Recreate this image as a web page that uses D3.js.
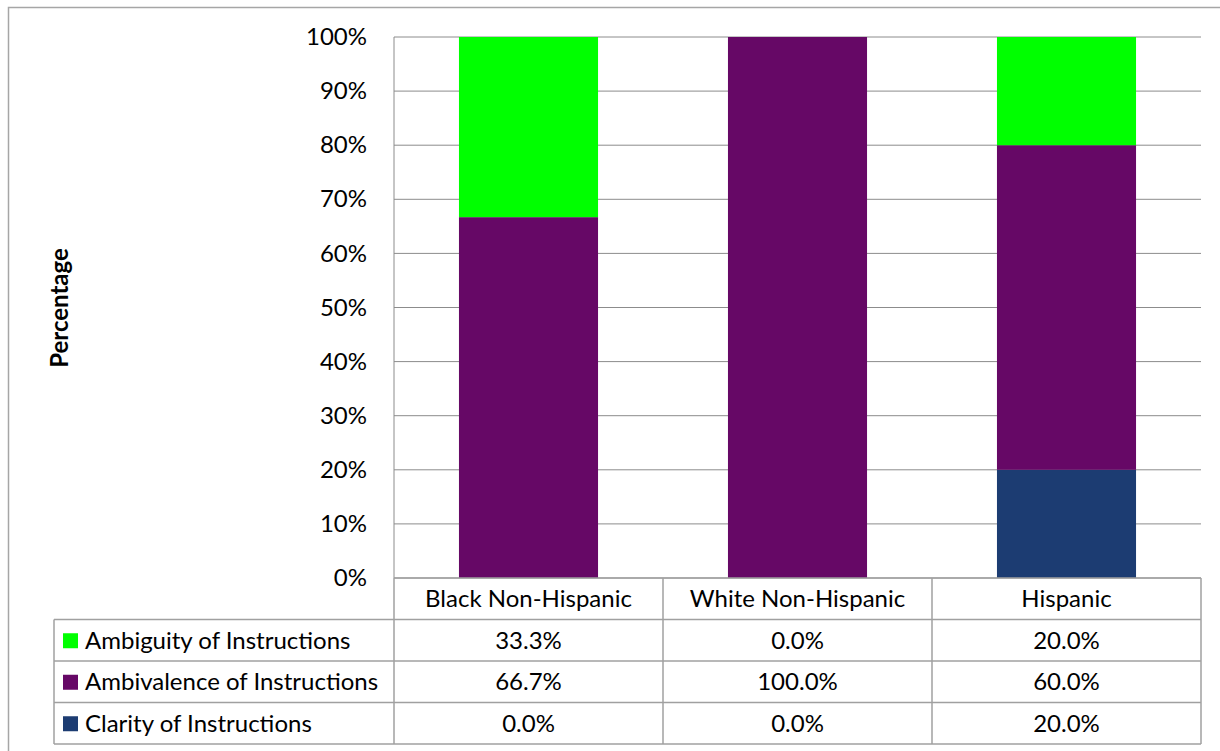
<!DOCTYPE html>
<html>
<head>
<meta charset="utf-8">
<script src="https://cdn.jsdelivr.net/npm/d3@7"></script>
<style>
  body { margin: 0; background: #fff; }
  text { font-family: Lato, "Open Sans", sans-serif; fill: #000; }
</style>
</head>
<body>
<script>
const categories = ["Black Non-Hispanic", "White Non-Hispanic", "Hispanic"];
const seriesNames = ["Ambiguity of Instructions", "Ambivalence of Instructions", "Clarity of Instructions"];
const ambiguity = [33.3, 0.0, 20.0];
const ambivalence = [66.7, 100.0, 60.0];
const clarity = [0.0, 0.0, 20.0];
const yTicks = [0, 10, 20, 30, 40, 50, 60, 70, 80, 90, 100];
const colors = ["#00ff00", "#660866", "#1c3c72"];

const width = 1220, height = 751;
const plot = {left: 394, right: 1201, top: 37, bottom: 578};
const rowH = 41.5, legendLeft = 54;
const fs = "24px";

const svg = d3.select("body").append("svg")
  .attr("width", width)
  .attr("height", height);

// chart frame
svg.append("rect")
  .attr("x", 8.5).attr("y", 7.5)
  .attr("width", 1230).attr("height", 760)
  .attr("fill", "none").attr("stroke", "#a6a6a6").attr("stroke-width", 1.5);

const xScale = d3.scaleBand()
  .domain(categories)
  .range([plot.left, plot.right]);

const yScale = d3.scaleLinear()
  .domain([0, 100])
  .range([plot.bottom, plot.top]);

// gridlines
svg.append("g")
  .selectAll("line")
  .data(yTicks)
  .enter()
  .append("line")
  .attr("x1", plot.left).attr("x2", plot.right)
  .attr("y1", d => yScale(d)).attr("y2", d => yScale(d))
  .attr("stroke", "#8c8c8c").attr("stroke-width", 1);

// y axis
const yAxis = d3.axisLeft(yScale).tickValues(yTicks).tickSize(0).tickPadding(27)
  .tickFormat(d => d + "%");
svg.append("g")
  .attr("transform", "translate(" + plot.left + ",0)")
  .call(yAxis)
  .call(g => g.select(".domain").remove())
  .selectAll("text")
  .style("font-size", fs)
  .style("font-family", "Lato, sans-serif");

svg.append("line")
  .attr("x1", plot.left).attr("x2", plot.left)
  .attr("y1", plot.top).attr("y2", plot.bottom)
  .attr("stroke", "#8c8c8c");

svg.append("text")
  .attr("transform", "rotate(-90)")
  .attr("x", -308)
  .attr("y", 68)
  .style("text-anchor", "middle")
  .style("font-size", fs)
  .style("font-weight", "bold")
  .text("Percentage");

// stacked bars
const rows = categories.map((c, i) => ({
  cat: c,
  "Clarity of Instructions": clarity[i],
  "Ambivalence of Instructions": ambivalence[i],
  "Ambiguity of Instructions": ambiguity[i]
}));
const stackOrder = ["Clarity of Instructions", "Ambivalence of Instructions", "Ambiguity of Instructions"];
const stacked = d3.stack().keys(stackOrder)(rows);
const barW = xScale.bandwidth() * 0.517;

svg.append("g")
  .selectAll("g")
  .data(stacked)
  .enter()
  .append("g")
  .attr("fill", d => colors[seriesNames.indexOf(d.key)])
  .selectAll("rect")
  .data(d => d)
  .enter()
  .append("rect")
  .attr("x", d => xScale(d.data.cat) + (xScale.bandwidth() - barW) / 2)
  .attr("y", d => yScale(d[1]))
  .attr("width", barW)
  .attr("height", d => yScale(d[0]) - yScale(d[1]));

// data table
const tableTop = plot.bottom;
const tbl = svg.append("g");
const gridStroke = "#a0a0a0";

// horizontal lines
[0, 1, 2, 3, 4].forEach(i => {
  tbl.append("line")
    .attr("x1", i === 0 ? plot.left : legendLeft)
    .attr("x2", plot.right)
    .attr("y1", tableTop + i * rowH).attr("y2", tableTop + i * rowH)
    .attr("stroke", gridStroke).attr("stroke-width", 1.5);
});
// vertical lines
[plot.left].concat(categories.map(c => xScale(c) + xScale.bandwidth())).forEach(x => {
  tbl.append("line")
    .attr("x1", x).attr("x2", x)
    .attr("y1", tableTop).attr("y2", tableTop + 4 * rowH)
    .attr("stroke", gridStroke).attr("stroke-width", 1.5);
});
tbl.append("line")
  .attr("x1", legendLeft).attr("x2", legendLeft)
  .attr("y1", tableTop + rowH).attr("y2", tableTop + 4 * rowH)
  .attr("stroke", gridStroke).attr("stroke-width", 1.5);

// header
tbl.selectAll(".hdr")
  .data(categories)
  .enter()
  .append("text")
  .attr("x", d => xScale(d) + xScale.bandwidth() / 2)
  .attr("y", tableTop + rowH / 2)
  .attr("dy", "0.35em")
  .style("text-anchor", "middle")
  .style("font-size", fs)
  .text(d => d);

const seriesVals = [ambiguity, ambivalence, clarity];
seriesNames.forEach((name, r) => {
  const cy = tableTop + (r + 1.5) * rowH;
  tbl.append("rect")
    .attr("x", 63).attr("y", cy - 7)
    .attr("width", 15).attr("height", 15)
    .attr("fill", colors[r]);
  tbl.append("text")
    .attr("x", 85).attr("y", cy)
    .attr("dy", "0.35em")
    .style("font-size", fs)
    .text(name);
  tbl.selectAll(".v" + r)
    .data(seriesVals[r])
    .enter()
    .append("text")
    .attr("x", (d, i) => xScale(categories[i]) + xScale.bandwidth() / 2)
    .attr("y", cy)
    .attr("dy", "0.35em")
    .style("text-anchor", "middle")
    .style("font-size", fs)
    .text(d => d.toFixed(1) + "%");
});
</script>
</body>
</html>
